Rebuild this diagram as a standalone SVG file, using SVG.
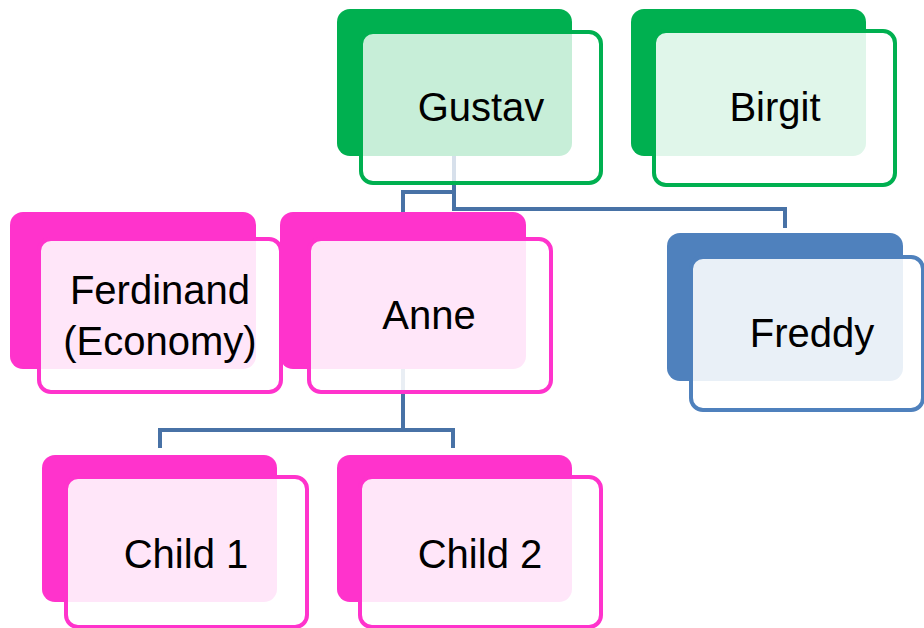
<svg xmlns="http://www.w3.org/2000/svg" width="924" height="628" viewBox="0 0 924 628">
  <style>
    .back { stroke: none; }
    .front { fill: #ffffff; fill-opacity: 0.88; stroke-width: 4; }
    .green .back { fill: #00B050; }
    .green .front { stroke: #00B050; }
    .pink .back { fill: #FF33CC; }
    .pink .front { stroke: #FF33CC; }
    .blue .back { fill: #4F81BD; }
    .blue .front { stroke: #4F81BD; }
    .label { font-family: "Liberation Sans", Arial, sans-serif; font-size: 40px; fill: #000000; text-anchor: middle; }
    .conn { fill: none; stroke: #4872A6; stroke-width: 4; stroke-linejoin: miter; }
  </style>

  <!-- connectors sit underneath the nodes -->
  <g id="connectors">
    <path class="conn" d="M454,100 V209 H785 V228"/>
    <path class="conn" d="M454,192 H403 V214"/>
    <path class="conn" d="M403,300 V430 H160 V448"/>
    <path class="conn" d="M403,430 H453 V448"/>
  </g>

  <g id="gustav" class="green">
    <rect class="back" x="337" y="9" width="235" height="147" rx="13"/>
    <rect class="front" x="361" y="32" width="240" height="151" rx="12" style="fill-opacity:0.78"/>
    <text class="label" x="481" y="121">Gustav</text>
  </g>

  <g id="birgit" class="green">
    <rect class="back" x="631" y="9" width="235" height="147" rx="13"/>
    <rect class="front" x="654" y="31" width="241" height="154" rx="12"/>
    <text class="label" x="775" y="121">Birgit</text>
  </g>

  <g id="ferdinand" class="pink">
    <rect class="back" x="10" y="212" width="246" height="157" rx="13"/>
    <rect class="front" x="39" y="239" width="242" height="153" rx="12"/>
    <text class="label" x="160" y="304">Ferdinand</text>
    <text class="label" x="160" y="355">(Economy)</text>
  </g>

  <g id="anne" class="pink">
    <rect class="back" x="280" y="212" width="246" height="157" rx="13"/>
    <rect class="front" x="309" y="239" width="242" height="153" rx="12"/>
    <text class="label" x="429" y="329">Anne</text>
  </g>

  <g id="freddy" class="blue">
    <rect class="back" x="667" y="233" width="236" height="148" rx="13"/>
    <rect class="front" x="691" y="257" width="232" height="153" rx="12"/>
    <text class="label" x="812" y="347">Freddy</text>
  </g>

  <g id="child1" class="pink">
    <rect class="back" x="42" y="455" width="235" height="147" rx="13"/>
    <rect class="front" x="66" y="477" width="241" height="150" rx="12"/>
    <text class="label" x="186" y="568">Child 1</text>
  </g>

  <g id="child2" class="pink">
    <rect class="back" x="337" y="455" width="235" height="147" rx="13"/>
    <rect class="front" x="360" y="477" width="241" height="150" rx="12"/>
    <text class="label" x="480" y="568">Child 2</text>
  </g>
</svg>
